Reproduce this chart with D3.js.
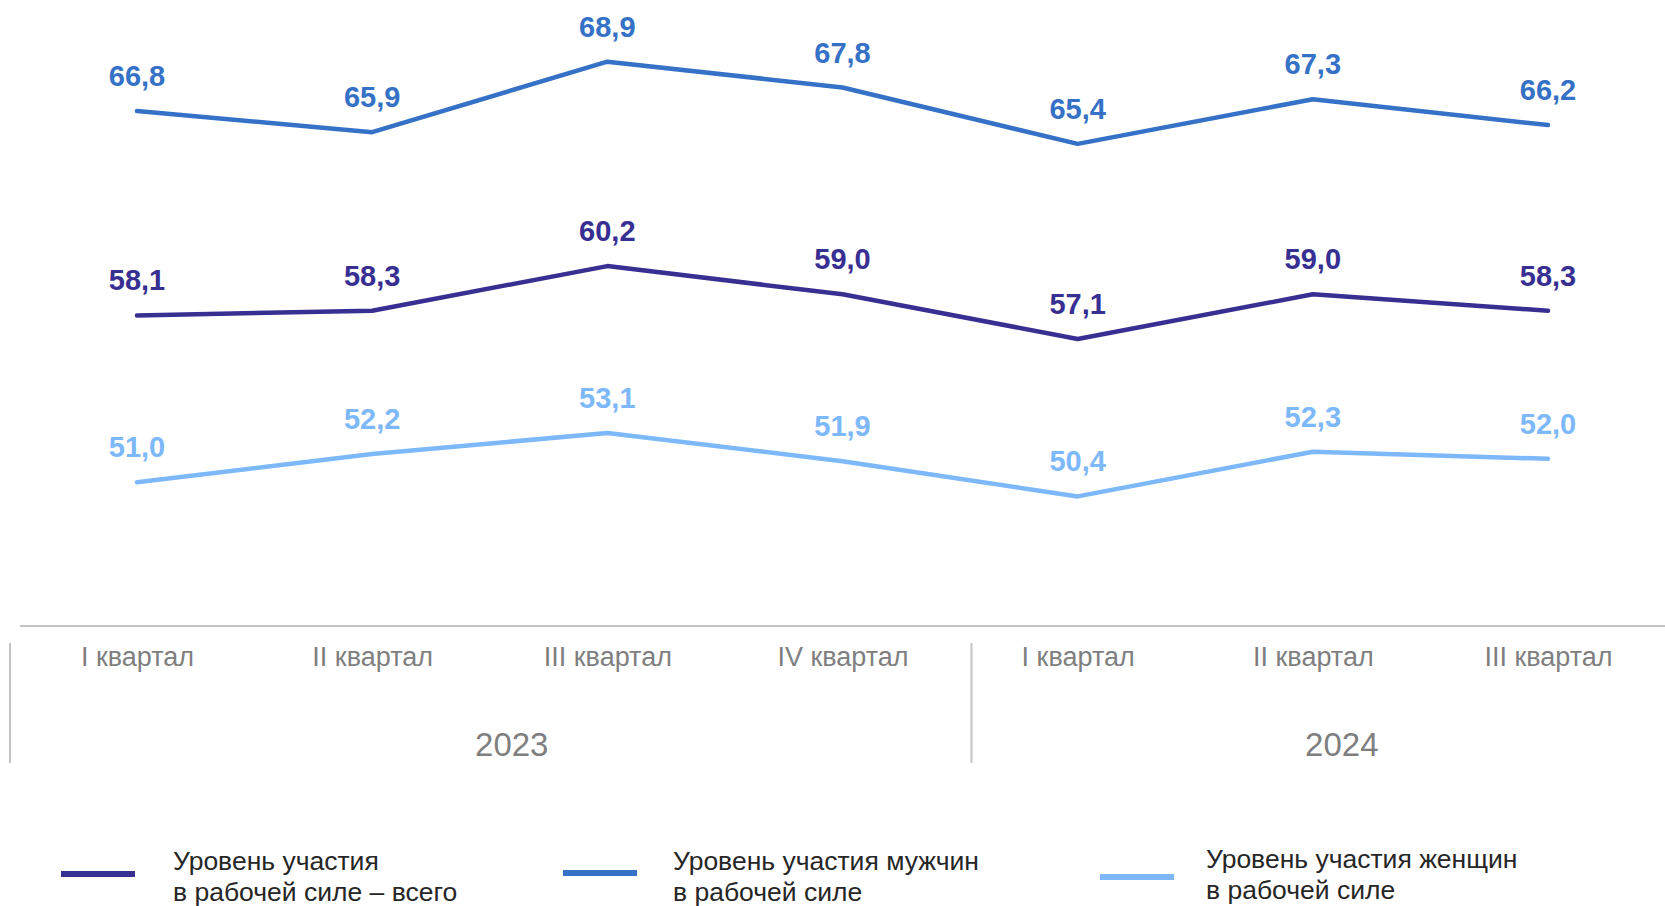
<!DOCTYPE html>
<html>
<head>
<meta charset="utf-8">
<script src="https://cdn.jsdelivr.net/npm/d3@7"></script>
<style>
    body { margin: 0; background: #fff; }
    svg { display: block; font-family: "Liberation Sans", Arial, sans-serif; }
</style>
</head>
<body>
<div id="chart"></div>
<script>
// quarters and the year each belongs to
var quarters = ["I квартал", "II квартал", "III квартал", "IV квартал", "I квартал", "II квартал", "III квартал"];
var years = ["2023", "2023", "2023", "2023", "2024", "2024", "2024"];
var yearLabels = ["2023", "2024"];

// series values, %
var totalValues = [58.1, 58.3, 60.2, 59.0, 57.1, 59.0, 58.3];
var menValues = [66.8, 65.9, 68.9, 67.8, 65.4, 67.3, 66.2];
var womenValues = [51.0, 52.2, 53.1, 51.9, 50.4, 52.3, 52.0];

var seriesNames = [
    ["Уровень участия", "в рабочей силе – всего"],
    ["Уровень участия мужчин", "в рабочей силе"],
    ["Уровень участия женщин", "в рабочей силе"]
];

function drawChart() {
    var width = 1665;
    var height = 906;
    var colors = ["#372f92", "#3571c6", "#7cb8fa"];
    var series = [totalValues, menValues, womenValues];

    var svg = d3.select("#chart")
        .append("svg")
        .attr("width", width)
        .attr("height", height);

    var x = d3.scalePoint()
        .domain(d3.range(quarters.length))
        .range([137, 1548]);

    var y = d3.scaleLinear()
        .domain([45, 70])
        .range([623.3, 35.8]);

    // baseline
    svg.append("line")
        .attr("x1", 20).attr("x2", width)
        .attr("y1", 626).attr("y2", 626)
        .attr("stroke", "#c4c4c4")
        .attr("stroke-width", 2);

    // x axis (no line, just labels)
    var xAxis = d3.axisBottom(x)
        .tickSize(0)
        .tickFormat(function (i) { return quarters[i]; });
    var ax = svg.append("g")
        .attr("transform", "translate(0,641)")
        .call(xAxis);
    ax.select(".domain").remove();
    ax.selectAll("text")
        .attr("dy", "0.71em")
        .attr("y", 6)
        .attr("fill", "#7f7f7f")
        .style("font-family", "Liberation Sans, Arial, sans-serif")
        .style("font-size", "27px");

    // group separators
    var separators = [x(0) - 127, x(3) + 129];
    svg.selectAll("line.sep")
        .data(separators)
        .enter()
        .append("line")
        .attr("class", "sep")
        .attr("x1", function (d) { return d; })
        .attr("x2", function (d) { return d; })
        .attr("y1", 643).attr("y2", 763)
        .attr("stroke", "#c4c4c4")
        .attr("stroke-width", 2);

    // year labels
    var yearShift = [22, 29];
    svg.selectAll("text.year")
        .data(yearLabels)
        .enter()
        .append("text")
        .attr("class", "year")
        .attr("x", function (yr, k) {
            var idx = d3.range(years.length).filter(function (i) { return years[i] === yr; });
            return (x(idx[0]) + x(idx[idx.length - 1])) / 2 + yearShift[k];
        })
        .attr("y", 756)
        .attr("text-anchor", "middle")
        .attr("fill", "#7f7f7f")
        .style("font-size", "33px")
        .text(function (d) { return d; });

    var line = d3.line()
        .x(function (d, i) { return x(i); })
        .y(function (d) { return y(d); });

    series.forEach(function (vals, s) {
        svg.append("path")
            .datum(vals)
            .attr("d", line)
            .attr("fill", "none")
            .attr("stroke", colors[s])
            .attr("stroke-width", 4.5)
            .attr("stroke-linecap", "round")
            .attr("stroke-linejoin", "round");

        svg.selectAll("text.lbl" + s)
            .data(vals)
            .enter()
            .append("text")
            .attr("class", "lbl" + s)
            .attr("x", function (d, i) { return x(i); })
            .attr("y", function (d) { return y(d) - 25; })
            .attr("text-anchor", "middle")
            .attr("fill", colors[s])
            .style("font-size", "29px")
            .style("font-weight", "bold")
            .text(function (d) { return d.toFixed(1).replace(".", ","); });
    });

    // legend
    var legendX = [61, 563, 1100];
    var legendY = [874, 873, 877];
    var legendTextX = [112, 110, 106];
    var legend = svg.selectAll("g.legend")
        .data(seriesNames)
        .enter()
        .append("g")
        .attr("class", "legend")
        .attr("transform", function (d, i) { return "translate(" + legendX[i] + ",0)"; });
    legend.append("line")
        .attr("x1", 0).attr("x2", 74)
        .attr("y1", function (d, i) { return legendY[i]; })
        .attr("y2", function (d, i) { return legendY[i]; })
        .attr("stroke", function (d, i) { return colors[i]; })
        .attr("stroke-width", 6);
    legend.append("text")
        .attr("x", function (d, i) { return legendTextX[i]; })
        .attr("y", function (d, i) { return i === 2 ? 868 : 870; })
        .attr("fill", "#262626")
        .style("font-size", "26.5px")
        .selectAll("tspan")
        .data(function (d) { return d; })
        .enter()
        .append("tspan")
        .attr("x", function () { return d3.select(this.parentNode).attr("x"); })
        .attr("dy", function (d, i) { return i === 0 ? 0 : 31; })
        .text(function (d) { return d; });
}

window.addEventListener('load', function () {
    drawChart();
});
</script>
</body>
</html>
